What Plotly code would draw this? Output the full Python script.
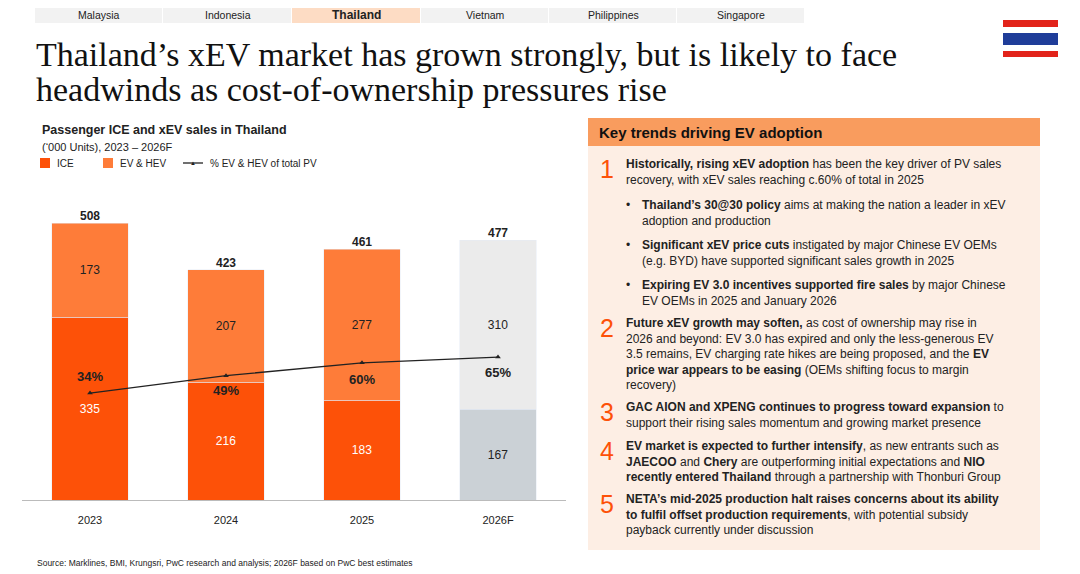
import plotly.graph_objects as go

years = ["2023", "2024", "2025", "2026F"]
ice = [335, 216, 183, 167]
ev_hev = [173, 207, 277, 310]
totals = [508, 423, 461, 477]
pct_ev = [34, 49, 60, 65]

tabs = ["Malaysia", "Indonesia", "Thailand", "Vietnam", "Philippines", "Singapore"]
active_tab = "Thailand"

ORANGE = "#FD5108"
LIGHT_ORANGE = "#FE7C39"
GREY_TOP = "#EBEBEB"
GREY_BOT = "#CBD1D6"
W, H = 1080, 574
OFF = 8  # page body margin

def px(x):
    return (x - OFF) / W

def py(y):
    return 1 - (y - OFF) / H

ice_colors = [ORANGE] * 3 + [GREY_BOT]
ev_colors = [LIGHT_ORANGE] * 3 + [GREY_TOP]

fig = go.Figure()
fig.add_trace(go.Bar(x=years, y=ice, marker_color=ice_colors, name="ICE", width=0.56,
                     text=ice, textposition="inside", insidetextanchor="middle",
                     textfont=dict(size=12, color=["white"] * 3 + ["#222"]), showlegend=False))
fig.add_trace(go.Bar(x=years, y=ev_hev, marker_color=ev_colors, name="EV & HEV", width=0.56,
                     text=ev_hev, textposition="inside", insidetextanchor="middle",
                     textfont=dict(size=12, color=["#222"] * 4), showlegend=False))
fig.add_trace(go.Scatter(x=years, y=pct_ev, yaxis="y2", mode="lines+markers",
                         line=dict(color="#222", width=1.3),
                         marker=dict(symbol="triangle-up", size=5, color="#222"), showlegend=False))
fig.add_trace(go.Scatter(x=years, y=totals, mode="text", text=[f"<b>{t}</b>" for t in totals],
                         textposition="top center", textfont=dict(size=12, color="#222"),
                         showlegend=False, cliponaxis=False))
label_shift = [13, -14, -15, -14]
fig.add_trace(go.Scatter(x=years, y=[p + s for p, s in zip(pct_ev, label_shift)], yaxis="y2", mode="text",
                         text=[f"<b>{p}%</b>" for p in pct_ev], textposition="middle center",
                         textfont=dict(size=13, color="#222"), showlegend=False, cliponaxis=False))

fig.update_layout(
    width=W, height=H, margin=dict(l=0, r=0, t=0, b=0),
    paper_bgcolor="white", plot_bgcolor="white", barmode="stack",
    font=dict(family="Liberation Sans, Arial", color="#222"),
    xaxis=dict(domain=[px(22), px(566)], showline=True, linecolor="#BBB",
               tickfont=dict(size=11), ticks="", showgrid=False, ticklabelstandoff=10),
    yaxis=dict(domain=[py(500), py(190)], range=[0, 569], visible=False),
    yaxis2=dict(overlaying="y", range=[-58.2, 209], visible=False),
)

shapes = []
ann = []

def text(x, y, t, size, xanchor="left", yanchor="middle", **kw):
    ann.append(dict(x=px(x), y=py(y), xref="paper", yref="paper", xanchor=xanchor, yanchor=yanchor,
                    text=t, showarrow=False, align="left", font=dict(size=size, **kw)))

def rect(x0, y0, x1, y1, color):
    shapes.append(dict(type="rect", xref="paper", yref="paper", x0=px(x0), x1=px(x1),
                       y0=py(y1), y1=py(y0), fillcolor=color, line_width=0, layer="below"))

# tabs (top of page is hidden by the body margin, so they start a little lower)
tab_x = [35, 163, 292, 421, 549, 677, 805]
for i, t in enumerate(tabs):
    active = t == active_tab
    rect(tab_x[i], 8, tab_x[i + 1] - 1, 23, "#FDDCC4" if active else "#F2F2F2")
    text((tab_x[i] + tab_x[i + 1]) / 2, 15.5, f"<b>{t}</b>" if active else t,
         12 if active else 10.5, xanchor="center", color="#222")

# flag
for y0, y1, c in [(20, 27, "#E2231A"), (27, 33, "white"), (33, 45, "#1F3D99"), (45, 51, "white"), (51, 57, "#E2231A")]:
    rect(1003, y0, 1058, y1, c)

# title
serif = "Liberation Serif, Georgia"
text(34, 55, "Thailand’s xEV market has grown strongly, but is likely to face", 34, family=serif, color="#111")
text(34, 89, "headwinds as cost-of-ownership pressures rise", 34, family=serif, color="#111")

# chart title and legend
text(40, 130, "<b>Passenger ICE and xEV sales in Thailand</b>", 12.5)
text(40, 147, "(‘000 Units), 2023 – 2026F", 11)
for x0, c, lab in [(40, ORANGE, "ICE"), (103, LIGHT_ORANGE, "EV & HEV")]:
    rect(x0, 158, x0 + 10, 168, c)
    text(x0 + 15, 163, lab, 10)
shapes.append(dict(type="line", xref="paper", yref="paper", x0=px(183), x1=px(203), y0=py(163), y1=py(163),
                   line=dict(color="#222", width=1.3)))
text(193, 163, "▲", 6, xanchor="center")
text(208, 163, "% EV & HEV of total PV", 10)

# source
text(35, 563, "Source: Marklines, BMI, Krungsri, PwC research and analysis; 2026F based on PwC best estimates", 8.5)

# right panel
rect(588, 146, 1040, 550, "#FDEEE4")
rect(588, 118, 1040, 146, "#F99C5E")
text(597, 132, "<b>Key trends driving EV adoption</b>", 15, color="#111")

blocks = [
    (1, 155, "<b>Historically, rising xEV adoption</b> has been the key driver of PV sales<br>recovery, with xEV sales reaching c.60% of total in 2025"),
    (2, 314, "<b>Future xEV growth may soften,</b> as cost of ownership may rise in<br>2026 and beyond: EV 3.0 has expired and only the less-generous EV<br>3.5 remains, EV charging rate hikes are being proposed, and the <b>EV</b><br><b>price war appears to be easing</b> (OEMs shifting focus to margin<br>recovery)"),
    (3, 398, "<b>GAC AION and XPENG continues to progress toward expansion</b> to<br>support their rising sales momentum and growing market presence"),
    (4, 437, "<b>EV market is expected to further intensify</b>, as new entrants such as<br><b>JAECOO</b> and <b>Chery</b> are outperforming initial expectations and <b>NIO</b><br><b>recently entered Thailand</b> through a partnership with Thonburi Group"),
    (5, 490, "<b>NETA’s mid-2025 production halt raises concerns about its ability</b><br><b>to fulfil offset production requirements</b>, with potential subsidy<br>payback currently under discussion"),
]
for n, y, txt in blocks:
    text(598, y - 2, str(n), 25, yanchor="top", color=ORANGE)
    text(624, y, txt, 12, yanchor="top", color="#222")

bullets = [
    (196, "<b>Thailand’s 30@30 policy</b> aims at making the nation a leader in xEV<br>adoption and production"),
    (236, "<b>Significant xEV price cuts</b> instigated by major Chinese EV OEMs<br>(e.g. BYD) have supported significant sales growth in 2025"),
    (276, "<b>Expiring EV 3.0 incentives supported fire sales</b> by major Chinese<br>EV OEMs in 2025 and January 2026"),
]
for y, txt in bullets:
    text(624, y, "•", 12, yanchor="top")
    text(640, y, txt, 12, yanchor="top", color="#222")

fig.update_layout(shapes=shapes, annotations=ann)
fig.write_html("out.html")
